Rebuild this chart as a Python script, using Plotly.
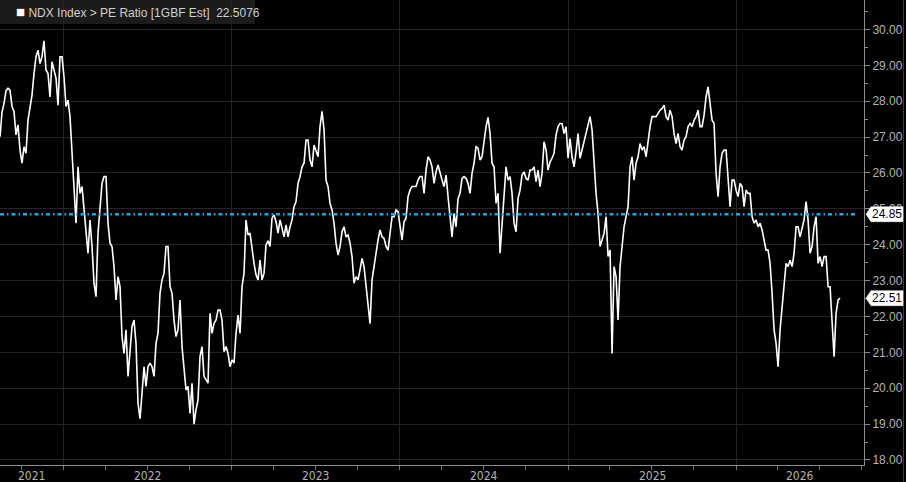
import pandas as pd
import plotly.graph_objects as go

# ---------------- data ----------------
start_date = "2021-08-15"
end_date = "2026-08-15"

pe_values = [
    # Aug 2021 - Jan 2022
    27.01, 27.69, 27.94, 28.29, 28.36, 28.31, 27.86, 27.71, 27.06, 27.34,
    26.64, 26.27, 26.73, 26.55, 27.47, 27.85, 28.17, 28.77, 29.24, 29.42,
    29.05, 29.24, 29.68, 28.87, 28.77, 28.12, 29.10, 28.87, 28.64, 27.89,
    29.24, 29.24, 28.68, 27.85, 28.03, 27.57, 26.55, 25.52, 24.60, 26.17,
    25.43, 25.62, 24.97, 24.50, 23.76, 24.69, 23.95, 22.93, 22.55, 24.32,
    25.15, 25.71, 25.90, 25.90, 24.60, 24.04, 23.95, 23.39, 22.46, 23.11,
    22.83, 21.44, 20.97, 21.63, 20.33, 21.07, 21.72, 21.90, 21.25, 19.58,
    19.15, 19.86, 20.60, 20.05, 20.60,
    # mid 2022 - early 2023
    20.70, 20.60, 20.33, 21.25, 21.53, 22.65, 23.02, 23.20, 23.95, 23.95,
    22.83, 22.65, 21.90, 21.44, 21.63, 22.46, 21.16, 20.60, 19.95, 20.05,
    19.30, 20.14, 19.00, 19.40, 19.67, 20.88, 21.16, 20.33, 20.23, 20.14,
    22.09, 21.53, 21.81, 21.90, 22.18, 22.18, 21.90, 21.02, 21.16, 20.97,
    20.60, 20.79, 20.70, 21.53, 22.04, 21.53, 22.83, 23.20, 24.69, 24.27,
    24.32, 23.85, 23.48, 23.16, 23.02, 23.57, 23.02, 23.20, 23.99, 24.11,
    23.95, 24.74, 24.83, 24.64, 24.32, 24.69, 24.41, 24.22, 24.55, 24.22,
    # 2023 - early 2024
    24.50, 24.69, 25.06, 25.20, 25.71, 25.90, 26.17, 26.27, 26.92, 26.92,
    26.36, 26.17, 26.78, 26.64, 26.45, 27.29, 27.72, 27.20, 25.80, 25.62,
    25.15, 24.97, 24.60, 24.04, 23.71, 23.95, 24.36, 24.50, 24.22, 24.27,
    24.04, 23.67, 22.93, 23.11, 23.02, 23.30, 23.62, 23.39, 22.83, 22.37,
    21.80, 23.02, 23.44, 23.71, 24.13, 24.41, 24.22, 24.18, 23.95, 23.85,
    24.32, 24.78, 24.78, 24.97, 24.92, 24.50, 24.13, 24.64, 24.74, 25.34,
    25.52, 25.62, 25.62, 25.62, 25.80, 25.90, 25.90, 25.43, 26.08, 26.45,
    # 2024
    26.36, 26.17, 25.71, 26.03, 26.22, 25.99, 25.80, 25.62, 25.94, 25.34,
    24.69, 24.22, 24.87, 24.50, 25.29, 25.43, 25.85, 25.90, 25.85, 25.71,
    25.43, 25.99, 26.27, 26.73, 26.69, 26.36, 26.45, 26.92, 27.29, 27.55,
    27.10, 26.27, 26.17, 25.15, 25.43, 23.76, 24.60, 25.25, 26.17, 25.80,
    25.90, 25.43, 24.60, 24.36, 25.29, 25.52, 25.94, 26.03, 25.85, 25.80,
    26.08, 26.08, 26.17, 25.76, 26.08, 25.62, 25.99, 26.87, 26.64, 26.08,
    26.31, 26.41, 26.55, 27.06, 27.29, 27.38, 27.38, 27.10, 27.29, 26.41,
    # 2025
    26.96, 26.45, 26.17, 26.59, 27.10, 26.41, 26.64, 26.87, 27.10, 27.29,
    27.57, 27.20, 26.17, 25.43, 24.87, 23.95, 24.13, 24.32, 24.78, 23.67,
    23.85, 20.97, 23.39, 23.11, 21.90, 23.39, 23.95, 24.50, 24.78, 25.06,
    26.17, 26.45, 25.80, 26.27, 26.45, 26.82, 26.64, 26.73, 26.45, 26.92,
    27.29, 27.57, 27.57, 27.57, 27.66, 27.75, 27.80, 27.89, 27.57, 27.47,
    27.75, 27.57, 27.10, 26.82, 27.10, 26.73, 26.64, 26.92, 27.01, 27.29,
    27.38, 27.29, 27.47, 27.57, 27.75, 27.29, 27.29, 27.61, 28.12, 28.40,
    # late 2025 - 2026
    27.94, 27.47, 27.38, 25.99, 25.34, 26.17, 26.55, 26.64, 26.64, 25.80,
    25.06, 25.80, 25.80, 25.52, 25.34, 25.71, 25.62, 25.06, 25.52, 25.43,
    25.43, 24.78, 24.60, 24.69, 24.50, 24.60, 24.41, 24.13, 23.85, 23.85,
    23.48, 22.65, 21.63, 21.25, 20.60, 21.63, 22.28, 23.02, 23.48, 23.39,
    23.57, 23.39, 23.76, 24.50, 24.50, 24.22, 24.50, 24.69, 25.20, 24.69,
    23.76, 23.95, 24.50, 24.78, 23.48, 23.67, 23.39, 23.67, 23.67, 22.83,
    22.83, 21.72, 20.88, 22.09, 22.46, 22.51,
]

average_pe = 24.85
last_pe = 22.51
legend_label = "NDX Index > PE Ratio [1GBF Est]"
legend_value = "22.5076"

x_range = ["2021-08-15", "2026-10-06"]
y_range = [17.86, 30.82]
y_ticks = list(range(18, 31))
years = [2021, 2022, 2023, 2024, 2025, 2026]

# ---------------- figure ----------------
dates = pd.date_range(start_date, end_date, periods=len(pe_values))

W, H = 906, 482
ML, MR, MT, MB = 0, 42, 0, 17
PW, PH = W - ML - MR, H - MT - MB
Y_PER_PX = (y_range[1] - y_range[0]) / PH

BG = "#000000"
GRID = "#232323"
AXIS = "#8c8c8c"
TXT = "#b4b4b4"
CYAN = "#12a9e8"
FONT = "Liberation Sans"
NARROW = "Liberation Sans Narrow, DejaVu Sans Condensed, Liberation Sans"

fig = go.Figure()
fig.add_trace(go.Scatter(
    x=dates, y=pe_values, mode="lines",
    line=dict(color="#ffffff", width=1.6),
    hoverinfo="skip", showlegend=False,
))

r0, r1 = pd.Timestamp(x_range[0]), pd.Timestamp(x_range[1])
year_starts = [pd.Timestamp(f"{y}-01-01") for y in years]
boundaries = [d for d in year_starts if r0 < d < r1]
quarters = [d for d in pd.date_range(f"{years[0]}-01-01", f"{years[-1]}-12-31", freq="QS") if r0 < d < r1]

annotations = []
for y in years:
    lo = max(pd.Timestamp(f"{y}-01-01"), r0)
    hi = min(pd.Timestamp(f"{y + 1}-01-01"), r1)
    mid = lo + (hi - lo) / 2
    annotations.append(dict(
        x=mid, y=-0.004, xref="x", yref="paper", text=str(y),
        showarrow=False, yanchor="top", xanchor="center",
        font=dict(family=NARROW, size=12, color=TXT),
    ))

# legend box text
annotations.append(dict(
    x=14 / PW, y=1 - 12 / PH, xref="paper", yref="paper",
    xanchor="left", yanchor="middle", showarrow=False,
    text=f"<span style='color:#ffffff;font-size:15px'>■</span> {legend_label}&nbsp;&nbsp;{legend_value}",
    font=dict(family=FONT, size=12, color="#cfcfcf"),
))

shapes = [
    # legend background
    dict(type="rect", xref="paper", yref="paper", x0=0, x1=255 / PW,
         y0=1 - 24 / PH, y1=1, fillcolor="#1b1b1b", line=dict(width=0), layer="below"),
    # average line
    dict(type="line", xref="paper", yref="y", x0=0, x1=0.993, y0=average_pe, y1=average_pe,
         line=dict(color=CYAN, width=2.5, dash="4px,3px,1.5px,3px")),
    # outer right border
    dict(type="line", xref="paper", yref="paper", x0=(W - 2.5) / PW, x1=(W - 2.5) / PW,
         y0=-MB / PH, y1=1, line=dict(color="#3a3a3a", width=1)),
]

# value tags on the right axis (pointed white boxes)
tip, body, end_ = (PW + 2) / PW, (PW + 7) / PW, (W - 3) / PW
half = 7.5 * Y_PER_PX
for val in (average_pe, last_pe):
    shapes.append(dict(
        type="path", xref="paper", yref="y",
        path=(f"M {tip},{val} L {body},{val + half} L {end_},{val + half} "
              f"L {end_},{val - half} L {body},{val - half} Z"),
        fillcolor="#ffffff", line=dict(color="#ffffff", width=0.5), layer="above",
    ))
    annotations.append(dict(
        x=(body + end_) / 2, y=val, xref="paper", yref="y",
        xanchor="center", yanchor="middle", showarrow=False,
        text=f"{val:.2f}",
        font=dict(family=FONT, size=12, color="#000000"),
    ))

fig.update_layout(
    width=W, height=H,
    margin=dict(l=ML, r=MR, t=MT, b=MB),
    paper_bgcolor=BG, plot_bgcolor=BG,
    showlegend=False,
    annotations=annotations,
    shapes=shapes,
    xaxis=dict(
        range=x_range, type="date",
        tickmode="array", tickvals=boundaries, ticktext=[""] * len(boundaries),
        ticks="outside", ticklen=14, tickcolor="#777777", tickwidth=1,
        showgrid=True, gridcolor=GRID, gridwidth=1,
        showline=True, linecolor=AXIS, linewidth=1,
        zeroline=False,
        minor=dict(tickmode="array", tickvals=quarters, ticks="outside",
                   ticklen=4, tickcolor="#777777", showgrid=False),
    ),
    yaxis=dict(
        range=y_range, side="right",
        tickmode="array", tickvals=y_ticks, ticktext=[f"{v:.2f}" for v in y_ticks],
        ticks="outside", ticklen=5, tickcolor=AXIS,
        tickfont=dict(family=FONT, size=12, color=TXT),
        showgrid=True, gridcolor=GRID, gridwidth=1,
        showline=True, linecolor=AXIS, linewidth=1,
        zeroline=False,
        minor=dict(dtick=0.5, tick0=0.5, ticks="outside", ticklen=3,
                   tickcolor=AXIS, showgrid=False),
    ),
)

fig.write_html(
    "out.html",
    config={"displayModeBar": False},
    post_script="document.body.style.margin='0';document.body.style.background='#000';",
)
